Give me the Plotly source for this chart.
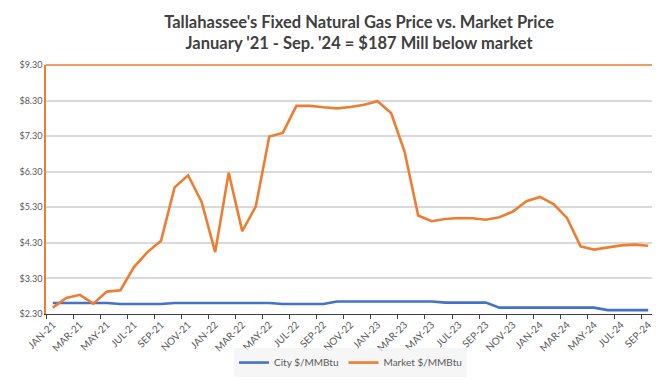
import plotly.graph_objects as go

months = ["JAN", "FEB", "MAR", "APR", "MAY", "JUN", "JUL", "AUG", "SEP", "OCT", "NOV", "DEC"]
categories = [f"{m}-{y}" for y in ["21", "22", "23", "24"] for m in months][:45]

city_price = [2.61, 2.61, 2.61, 2.61, 2.61, 2.58, 2.58, 2.58, 2.58, 2.61, 2.61, 2.61,
              2.61, 2.61, 2.61, 2.61, 2.61, 2.58, 2.58, 2.58, 2.58, 2.65, 2.65, 2.65,
              2.65, 2.65, 2.65, 2.65, 2.65, 2.62, 2.62, 2.62, 2.62, 2.48, 2.48, 2.48,
              2.48, 2.48, 2.48, 2.48, 2.48, 2.41, 2.41, 2.41, 2.41]

market_price = [2.48, 2.75, 2.84, 2.59, 2.93, 2.97, 3.62, 4.04, 4.36, 5.86, 6.20, 5.45,
                4.04, 6.27, 4.63, 5.32, 7.29, 7.39, 8.15, 8.15, 8.11, 8.08, 8.12, 8.18,
                8.28, 7.95, 6.86, 5.07, 4.91, 4.97, 5.00, 4.99, 4.95, 5.02, 5.18, 5.47,
                5.59, 5.39, 5.00, 4.20, 4.11, 4.18, 4.23, 4.25, 4.22]

y_ticks = [2.30, 3.30, 4.30, 5.30, 6.30, 7.30, 8.30, 9.30]
y_tick_text = [f"${v:.2f}" for v in y_ticks]

title_text = ("Tallahassee's Fixed Natural Gas Price vs. Market Price<br>"
              "January '21 - Sep. '24 = $187 Mill below market")

ORANGE = "#ED7D31"
BLUE = "#4472C4"

fig = go.Figure()
fig.add_trace(go.Scatter(x=categories, y=city_price, mode="lines", name="City $/MMBtu",
                         line=dict(color=BLUE, width=2.6)))
fig.add_trace(go.Scatter(x=categories, y=market_price, mode="lines", name="Market $/MMBtu",
                         line=dict(color=ORANGE, width=2.6)))

fig.update_layout(
    width=660, height=380,
    margin=dict(l=36, r=11, t=57, b=66),
    paper_bgcolor="white", plot_bgcolor="white",
    font=dict(family="Lato, Open Sans, sans-serif", color="#595959"),
    title=dict(text=title_text, x=0.532, xanchor="center", y=0.948, yanchor="top",
               font=dict(family="Lato, sans-serif", size=16.5, color="#404040", weight="bold")),
    legend=dict(orientation="h", x=0.5, xanchor="center", y=-0.195, yanchor="middle",
                bgcolor="rgba(242,242,242,0.7)", font=dict(size=10, color="#595959"),
                traceorder="normal"),
    xaxis=dict(type="category", tickson="boundaries", dtick=2, tickangle=-45,
               showgrid=False, showline=True, linecolor="#404040", linewidth=1,
               ticks="outside", ticklen=4, tickcolor="#404040",
               tickfont=dict(size=10, color="#595959"), range=[-0.5, 44.5]),
    yaxis=dict(range=[2.30, 9.30], tickvals=y_ticks, ticktext=y_tick_text,
               showgrid=True, gridcolor="#D9D9D9", gridwidth=1.5,
               showline=True, linecolor=ORANGE, linewidth=1.5, mirror=True,
               zeroline=False, tickfont=dict(size=9, color="#595959")),
    shapes=[dict(type="line", xref="paper", yref="paper", x0=0, x1=1, y0=1, y1=1,
                 line=dict(color=ORANGE, width=1.5))],
)

fig.write_html("out.html")
